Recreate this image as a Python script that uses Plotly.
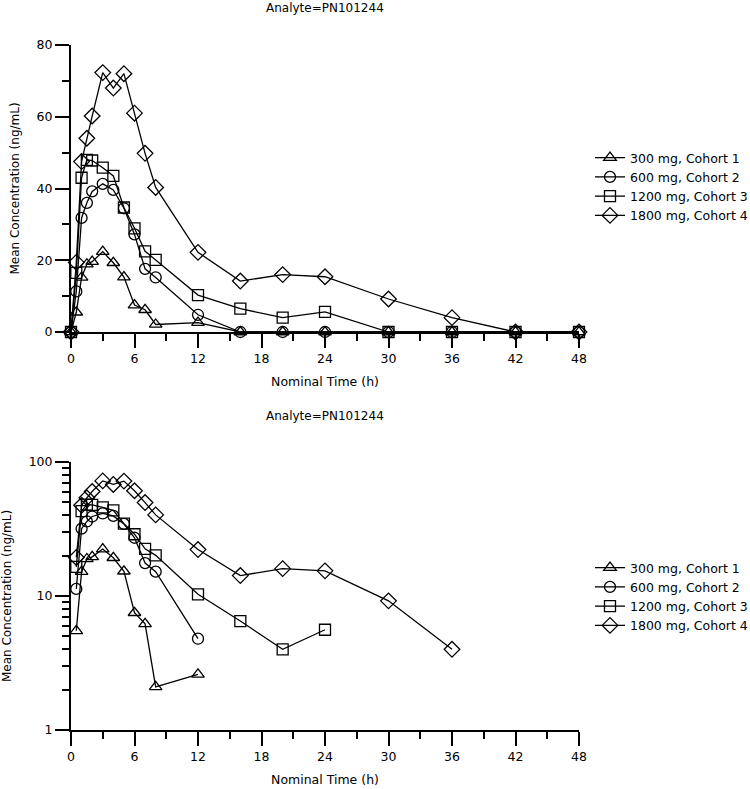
import plotly.graph_objects as go

times = [0, 0.5, 1, 1.5, 2, 3, 4, 5, 6, 7, 8, 12, 16, 20, 24, 30, 36, 42, 48]
c300 = [0, 5.5, 15.2, 18.9, 19.6, 22.4, 19.3, 15.3, 7.5, 6.2, 2.1, 2.6, 0, 0, 0, 0, 0, 0, 0]
c600 = [0, 11.3, 31.8, 36.0, 39.2, 41.3, 39.6, 34.5, 27.2, 17.6, 15.2, 4.8, 0, 0, 0, 0, 0, 0, 0]
c1200 = [0, 16.5, 43.0, 48.0, 47.8, 45.8, 43.5, 34.7, 28.9, 22.5, 20.1, 10.3, 6.5, 4.0, 5.6, 0, 0, 0, 0]
c1800 = [0, 19.4, 47.5, 54.0, 60.2, 72.3, 68.0, 72.0, 61.0, 49.8, 40.3, 22.2, 14.2, 16.0, 15.4, 9.2, 4.0, 0, 0]

names = ["300 mg, Cohort 1", "600 mg, Cohort 2", "1200 mg, Cohort 3", "1800 mg, Cohort 4"]
series = [c300, c600, c1200, c1800]
symbols = ["triangle-up-open", "circle-open", "square-open", "diamond-open"]
sizes = [11, 11, 11, 12]

x_ticks = [0, 6, 12, 18, 24, 30, 36, 42, 48]
x_minor = [3, 9, 15, 21, 27, 33, 39, 45]
y_ticks_lin = [0, 20, 40, 60, 80]
y_minor_lin = [10, 30, 50, 70]
y_ticks_log = [1, 10, 100]
y_minor_log = [2, 3, 4, 5, 6, 7, 8, 9, 20, 30, 40, 50, 60, 70, 80, 90]
title_text = "Analyte=PN101244"

FONT = "DejaVu Sans"
W, H = 750, 789

fig = go.Figure()
for nm, vals, sym, sz in zip(names, series, symbols, sizes):
    fig.add_trace(go.Scatter(
        x=times, y=vals, name=nm, mode="lines+markers",
        line=dict(color="black", width=1.3),
        marker=dict(symbol=sym, size=sz, color="black", line=dict(width=1.3, color="black")),
        xaxis="x", yaxis="y", legend="legend", cliponaxis=False))
for nm, vals, sym, sz in zip(names, series, symbols, sizes):
    xs = [t for t, v in zip(times, vals) if v > 0]
    ys = [v for v in vals if v > 0]
    fig.add_trace(go.Scatter(
        x=xs, y=ys, name=nm, mode="lines+markers",
        line=dict(color="black", width=1.3),
        marker=dict(symbol=sym, size=sz, color="black", line=dict(width=1.3, color="black")),
        xaxis="x2", yaxis="y2", legend="legend2", cliponaxis=False))

xd = [71 / W, 579 / W]
top_dom = [(H - 332) / H, (H - 45) / H]
bot_dom = [(H - 730) / H, (H - 462) / H]

def xaxis_cfg(anchor):
    return dict(
        domain=xd, anchor=anchor, range=[0, 48], tickmode="array", tickvals=x_ticks,
        ticks="outside", ticklen=14, tickwidth=1.5, tickcolor="black",
        showline=True, linewidth=2, linecolor="black", showgrid=False, zeroline=False,
        minor=dict(tickmode="array", tickvals=x_minor, ticks="outside", ticklen=7,
                   tickwidth=1.5, tickcolor="black", showgrid=False),
        tickfont=dict(family=FONT, size=12.5, color="black"),
        title=dict(text="Nominal Time (h)", font=dict(family=FONT, size=12.5, color="black"), standoff=12),
        automargin=False)

fig.update_layout(
    width=W, height=H, margin=dict(l=0, r=0, t=0, b=0, autoexpand=False),
    paper_bgcolor="white", plot_bgcolor="white",
    font=dict(family=FONT, size=12, color="black"),
    xaxis=xaxis_cfg("y"),
    xaxis2=xaxis_cfg("y2"),
    yaxis=dict(
        domain=top_dom, anchor="x", range=[0, 80], tickmode="array", tickvals=y_ticks_lin,
        ticks="outside", ticklen=14, tickwidth=1.5, tickcolor="black",
        showline=True, linewidth=2, linecolor="black", showgrid=False, zeroline=False,
        minor=dict(tickmode="array", tickvals=y_minor_lin, ticks="outside", ticklen=7,
                   tickwidth=1.5, tickcolor="black", showgrid=False),
        tickfont=dict(family=FONT, size=12.5, color="black"),
        title=dict(text="Mean Concentration (ng/mL)", font=dict(family=FONT, size=12, color="black"), standoff=14),
        automargin=False),
    yaxis2=dict(
        domain=bot_dom, anchor="x2", type="log", range=[0, 2], tickmode="array", tickvals=y_ticks_log,
        ticktext=["1", "10", "100"],
        ticks="outside", ticklen=14, tickwidth=1.5, tickcolor="black",
        showline=True, linewidth=2, linecolor="black", showgrid=False, zeroline=False,
        minor=dict(tickmode="array", tickvals=y_minor_log, ticks="outside", ticklen=7,
                   tickwidth=1.5, tickcolor="black", showgrid=False),
        tickfont=dict(family=FONT, size=12.5, color="black"),
        title=dict(text="Mean Concentration (ng/mL)", font=dict(family=FONT, size=12, color="black"), standoff=14),
        automargin=False),
    legend=dict(x=590 / W, y=(H - 143) / H, xanchor="left", yanchor="top",
                font=dict(family=FONT, size=12.5, color="black"), bgcolor="rgba(0,0,0,0)",
                tracegroupgap=0, itemwidth=30),
    legend2=dict(x=590 / W, y=(H - 553) / H, xanchor="left", yanchor="top",
                 font=dict(family=FONT, size=12.5, color="black"), bgcolor="rgba(0,0,0,0)",
                 tracegroupgap=0, itemwidth=30),
    showlegend=True,
    annotations=[
        dict(text=title_text, x=(xd[0] + xd[1]) / 2, y=(H - 8) / H, xref="paper", yref="paper",
             showarrow=False, xanchor="center", yanchor="middle",
             font=dict(family=FONT, size=12, color="black")),
        dict(text=title_text, x=(xd[0] + xd[1]) / 2, y=(H - 416) / H, xref="paper", yref="paper",
             showarrow=False, xanchor="center", yanchor="middle",
             font=dict(family=FONT, size=12, color="black")),
    ],
)

fig.write_html("out.html", config={"displayModeBar": False},
               post_script="document.body.style.margin='0px';")
